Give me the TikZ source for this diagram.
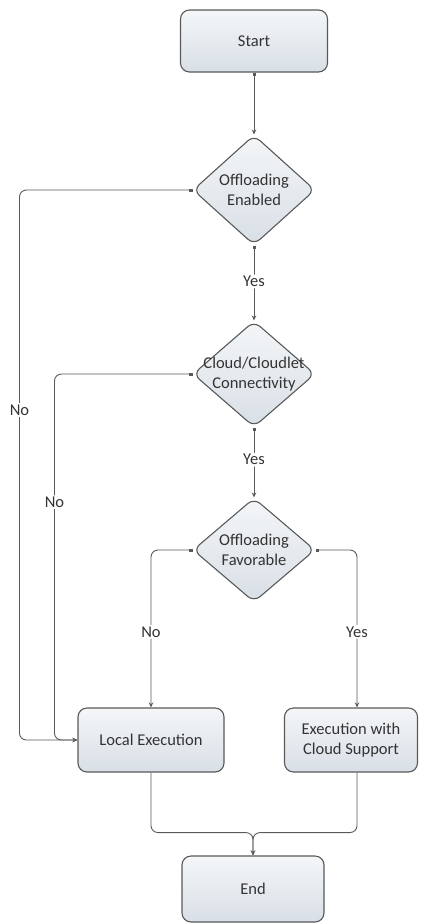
\documentclass[tikz,border=0pt]{standalone}
\usepackage{fontspec}
\setmainfont{Carlito}
\usepackage{tikz}
\usetikzlibrary{positioning, shapes.geometric, arrows.meta, calc}
\usepackage{xcolor}
\definecolor{fcline}{HTML}{595959}
\definecolor{fctop}{HTML}{F4F6F8}
\definecolor{fcbot}{HTML}{D8DFE6}
\definecolor{fctext}{HTML}{333333}
\tikzset{
  fcfont/.style={font=\fontsize{16.5}{20}\selectfont},
  procbox/.style={draw=fcline, line width=1.1pt, rounded corners=9pt, top color=fctop, bottom color=fcbot,
    text=fctext, fcfont, align=center, inner sep=0pt},
  decbox/.style={diamond, draw=fcline, line width=1.1pt, rounded corners=8pt, top color=fctop, bottom color=fcbot,
    inner sep=0pt, minimum width=122pt},
  dectext/.style={text=fctext, fcfont, align=center, inner sep=0pt},
  flow/.style={draw=fcline, line width=0.9pt, rounded corners=7pt, -{Stealth[length=5pt,width=4.5pt]}},
  dflow/.style={flow, {Square[length=3pt,width=3pt]}-{Stealth[length=5pt,width=4.5pt]}},
  lbl/.style={fill=white, text=fctext, fcfont, inner sep=1.5pt}
}
\begin{document}
\begin{tikzpicture}[x=1pt, y=-1pt]
    \useasboundingbox (0,0) rectangle (424,924);
    \node[procbox, minimum width=147pt, minimum height=62pt] (start) at (254,41) {Start};
    \node[decbox, minimum height=110pt, label={[dectext]center:Offloading\\Enabled}] (offen) at (254,190) {};
    \node[decbox, minimum height=106pt, label={[dectext]center:Cloud/Cloudlet\\Connectivity}] (conn) at (254,374) {};
    \node[decbox, minimum height=104pt, label={[dectext]center:Offloading\\Favorable}] (fav) at (254,550) {};
    \node[procbox, minimum width=146pt, minimum height=64pt] (local) at (151,740) {Local Execution};
    \node[procbox, minimum width=133pt, minimum height=64pt] (cloud) at (351,740) {Execution with\\Cloud Support};
    \node[procbox, minimum width=142pt, minimum height=66pt] (end) at (253,889) {End};

    \draw[dflow] (start.south) -- (offen.north);
    \draw[dflow] (offen.south) -- node[lbl, pos=0.48] {Yes} (conn.north);
    \draw[dflow] (conn.south) -- node[lbl, pos=0.46] {Yes} (fav.north);
    \draw[dflow] (offen.west) -- ++(-173,0) coordinate (o1) -- node[lbl, pos=0.4] {No} (o1 |- local.west) -- (local.west);
    \draw[dflow] (conn.west) -- ++(-138,0) coordinate (c1) -- node[lbl, pos=0.35] {No} (c1 |- local.west) -- (local.west);
    \draw[dflow] (fav.west) -| node[lbl, pos=0.76] {No} (local.north);
    \draw[dflow] (fav.east) -| node[lbl, pos=0.76] {Yes} ([xshift=6pt]cloud.north);
    \draw[flow] (local.south) -- ++(0,60) -| (end.north);
    \draw[flow] ([xshift=6pt]cloud.south) -- ++(0,60) -| (end.north);
\end{tikzpicture}
\end{document}
